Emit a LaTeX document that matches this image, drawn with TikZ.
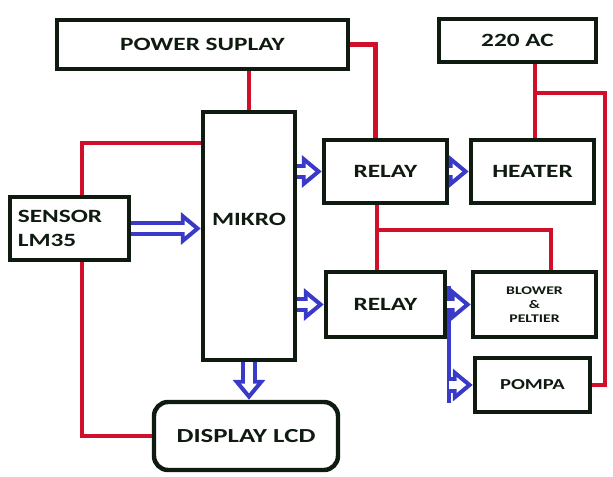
\documentclass[tikz,border=0pt]{standalone}
\usepackage{fontspec}
\setmainfont{Carlito}[FakeStretch=1.35]
\usetikzlibrary{arrows.meta,positioning}
\definecolor{ink}{HTML}{0F1A10}
\definecolor{wire}{HTML}{D0102A}
\definecolor{sigblue}{HTML}{3A3AC8}

\begin{document}
\begin{tikzpicture}[x=0.03cm, y=-0.03cm,
    every node/.style={font=\bfseries\fontsize{16}{20}\selectfont, text=ink},
    blk/.style={draw=ink, line width=3.8pt, fill=white, inner sep=2pt},
    pwr/.style={wire, line width=3.6pt},
    sigline/.style={sigblue, line width=3pt},
    sigout/.style={sigblue, line width=13pt, -{Triangle[length=17pt, width=27pt]}},
    sigin/.style={white, line width=6.5pt, shorten >=5.6pt, -{Triangle[length=8.2pt, width=13pt]}}]
    \useasboundingbox (0,0) rectangle (613,477);
    \node[blk, minimum width=8.73cm, minimum height=1.47cm] (ps) at (202.5,44.5) {POWER SUPLAY};
    \node[blk, minimum width=4.71cm, minimum height=1.29cm] (ac) at (517.5,40.5) {220 AC};
    \node[blk, minimum width=2.76cm, minimum height=7.44cm, text depth=1cm] (mk) at (249,236) {MIKRO};
    \node[blk, minimum width=3.69cm, minimum height=1.89cm] (r1) at (385.5,171.5) {RELAY};
    \node[blk, minimum width=3.69cm, minimum height=1.89cm] (ht) at (532.5,171.5) {HEATER};
    \node[blk, minimum width=3.57cm, minimum height=1.89cm, align=left, text width=3.1cm] (sn) at (69.5,228.5) {SENSOR\\LM35};
    \node[blk, minimum width=3.57cm, minimum height=1.95cm] (r2) at (385.5,304.5) {RELAY};
    \node[blk, minimum width=3.69cm, minimum height=1.95cm, font=\bfseries\fontsize{10}{12}\selectfont, align=center] (bl) at (534.5,304.5) {BLOWER\\\&\\PELTIER};
    \node[blk, minimum width=3.45cm, minimum height=1.62cm, font=\bfseries\fontsize{13}{15}\selectfont] (pp) at (532.5,385) {POMPA};
    \node[blk, rounded corners=12pt, minimum width=5.52cm, minimum height=2.04cm, font=\bfseries\fontsize{17}{20}\selectfont] (lcd) at (246,436) {DISPLAY LCD};
    \coordinate (j1) at (535,93);
    \coordinate (j2) at (377,230);
    \coordinate (j3) at (82,143);
    \coordinate (j4) at (449,286);
    \coordinate (j5) at (449,403);
    \draw[pwr] (mk.north) -- (mk.north |- ps.south);
    \draw[pwr] (ps.east) -| ([xshift=-0.3cm]r1.north);
    \draw[pwr] (j3 -| mk.west) -- (j3) -- (j3 |- sn.north);
    \draw[pwr] (j3 |- sn.south) |- (lcd.west);
    \draw[pwr] (j1 |- ac.south) -- (j1) -- (j1 |- ht.north);
    \draw[pwr] (j1) -| ([xshift=0.39cm]pp.east) -- (pp.east);
    \draw[pwr] (j2 |- r1.south) -- (j2) -- (j2 |- r2.north);
    \draw[pwr] (j2) -| ([xshift=0.5cm]bl.north);
    \draw[sigline] (j4) -- (j5);
    \foreach \s/\t in {sn.east/sn.east -| mk.west, mk.east |- r1.west/r1.west, r1.east/ht.west,
        mk.east |- r2.west/r2.west, r2.east/bl.west, j4 |- pp.west/pp.west, mk.south/mk.south |- lcd.north} {
      \draw[sigout] (\s) -- (\t);
      \draw[sigin] (\s) -- (\t);
    }
\end{tikzpicture}
\end{document}
